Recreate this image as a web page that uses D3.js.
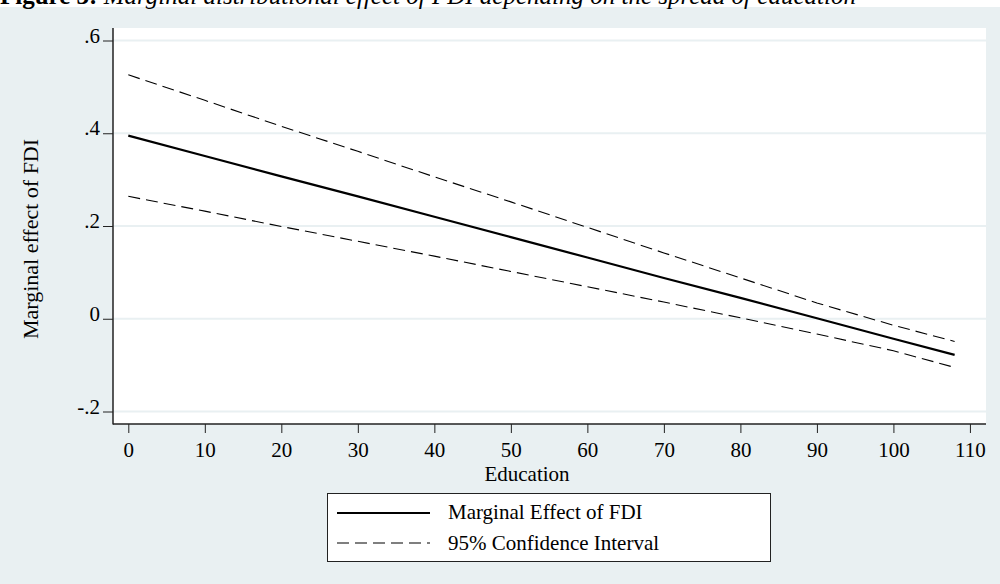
<!DOCTYPE html>
<html><head><meta charset="utf-8">
<script src="https://cdn.jsdelivr.net/npm/d3@7"></script>
<style>html,body{margin:0;padding:0;background:#fff;}svg{display:block;font-family:"Liberation Serif","Times New Roman",serif;}</style>
</head><body>
<svg id="c" width="1000" height="584"></svg>
<script>
const education = [0,10,20,30,40,50,60,70,80,90,100,108];
const marginal  = [0.395,0.351,0.307,0.264,0.220,0.176,0.132,0.088,0.045,0.001,-0.043,-0.078];
const upperCI   = [0.526,0.471,0.415,0.361,0.306,0.252,0.197,0.142,0.088,0.034,-0.014,-0.049];
const lowerCI   = [0.264,0.232,0.199,0.167,0.135,0.102,0.069,0.036,0.002,-0.033,-0.069,-0.105];
const xTicks = [0,10,20,30,40,50,60,70,80,90,100,110];
const yTicks = [-0.2,0,0.2,0.4,0.6];
const yTickLabels = ["-.2","0",".2",".4",".6"];
const legendLabels = ["Marginal Effect of FDI","95% Confidence Interval"];
const titleBold = "Figure 3: ";
const titleItalic = "Marginal distributional effect of FDI depending on the spread of education";

const svg = d3.select("#c");
const bg = "#e9f0f2";
const L=113,R=986,T=28,B=424;
const fs = 21;
svg.append("rect").attr("x",0).attr("y",7).attr("width",1000).attr("height",577).attr("fill",bg);
svg.append("rect").attr("x",L).attr("y",T).attr("width",R-L).attr("height",B-T).attr("fill","#fff");

// title (cut off at top, as in the source image)
const tt = svg.append("text").attr("x",0).attr("y",4).attr("font-size",25).attr("fill","#000");
tt.append("tspan").attr("font-weight","bold").text(titleBold);
tt.append("tspan").attr("font-style","italic").text(titleItalic);

const x = d3.scaleLinear().domain([-2.0,112.1]).range([L,R]);
const y = d3.scaleLinear().domain([-0.2,0.6]).range([411.5,40.5]);

// gridlines
svg.append("g").selectAll("line").data(yTicks).join("line")
  .attr("x1",L).attr("x2",R).attr("y1",d=>y(d)).attr("y2",d=>y(d))
  .attr("stroke",bg).attr("stroke-width",2);

// axes
const yAxis = d3.axisLeft(y).tickValues(yTicks).tickSize(10).tickFormat((d,i)=>yTickLabels[i]);
const gy = svg.append("g").attr("transform",`translate(${L},0)`).call(yAxis);
gy.select(".domain").remove();
gy.selectAll(".tick line").attr("stroke","#222");
gy.selectAll(".tick text").attr("font-size",fs).attr("font-family","Liberation Serif").attr("fill","#000")
  .attr("x",-13).attr("dy","0.08em");

const xAxis = d3.axisBottom(x).tickValues(xTicks).tickSize(9).tickFormat(d3.format("d"));
const gx = svg.append("g").attr("transform",`translate(0,${B})`).call(xAxis);
gx.select(".domain").remove();
gx.selectAll(".tick line").attr("stroke","#222");
gx.selectAll(".tick text").attr("font-size",fs).attr("font-family","Liberation Serif").attr("fill","#000")
  .attr("y",18).attr("dy","0.71em");

svg.append("line").attr("x1",L).attr("x2",L).attr("y1",T).attr("y2",B+0.5).attr("stroke","#222").attr("stroke-width",1.5);
svg.append("line").attr("x1",L).attr("x2",R).attr("y1",B).attr("y2",B).attr("stroke","#222").attr("stroke-width",1.5);

// axis titles
svg.append("text").attr("x",527).attr("y",481).attr("text-anchor","middle").attr("font-size",fs).text("Education");
svg.append("text").attr("transform","translate(38,239) rotate(-90)").attr("text-anchor","middle").attr("font-size",22).text("Marginal effect of FDI");

// lines
const line = d3.line().x(d=>x(d[0])).y(d=>y(d[1]));
const pts = arr => education.map((e,i)=>[e,arr[i]]);
svg.append("path").attr("d",line(pts(upperCI))).attr("fill","none").attr("stroke","#000").attr("stroke-width",1.1).attr("stroke-dasharray","12,6");
svg.append("path").attr("d",line(pts(lowerCI))).attr("fill","none").attr("stroke","#000").attr("stroke-width",1.1).attr("stroke-dasharray","12,6");
svg.append("path").attr("d",line(pts(marginal))).attr("fill","none").attr("stroke","#000").attr("stroke-width",2.2);

// legend
svg.append("rect").attr("x",327.5).attr("y",493.5).attr("width",443).attr("height",68).attr("fill","#fff").attr("stroke","#222").attr("stroke-width",1);
svg.append("line").attr("x1",337).attr("x2",430).attr("y1",513).attr("y2",513).attr("stroke","#000").attr("stroke-width",2.2);
svg.append("line").attr("x1",337).attr("x2",430).attr("y1",543).attr("y2",543).attr("stroke","#000").attr("stroke-width",1.1).attr("stroke-dasharray","12,6");
svg.append("text").attr("x",448).attr("y",519).attr("font-size",fs).text(legendLabels[0]);
svg.append("text").attr("x",448).attr("y",550).attr("font-size",fs).text(legendLabels[1]);
</script>
</body></html>
